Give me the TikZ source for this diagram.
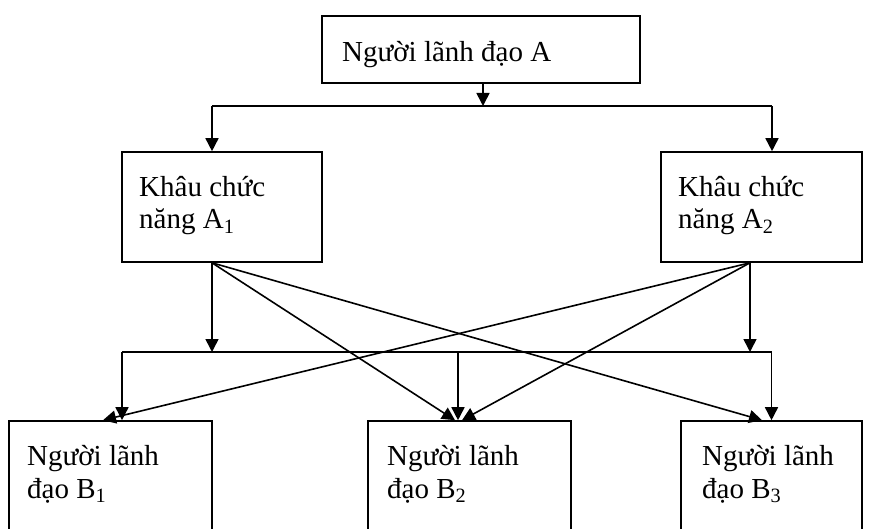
\documentclass[tikz,border=0pt]{standalone}
\usepackage{fontspec}
\setmainfont{Liberation Serif}
\usetikzlibrary{arrows.meta}
\begin{document}
\begin{tikzpicture}[x=1pt,y=-1pt,
  box/.style={draw,line width=1.6pt,rectangle,inner sep=0pt},
  txt/.style={inner sep=0pt,anchor=base west,font=\fontsize{29}{33}\selectfont},
  conn/.style={line width=1.6pt},
  arr/.style={line width=1.6pt,-{Triangle[length=13pt,width=13pt]}}]
\useasboundingbox (0,0) rectangle (872,529);
\clip (0,0) rectangle (872,529);
% boxes
\node[box,minimum width=318pt,minimum height=67pt] (A) at (481,49.5) {};
\node[box,minimum width=200pt,minimum height=110pt] (A1) at (222,207) {};
\node[box,minimum width=201pt,minimum height=110pt] (A2) at (761.5,207) {};
\node[box,minimum width=203pt,minimum height=139pt] (B1) at (110.5,490.5) {};
\node[box,minimum width=203pt,minimum height=139pt] (B2) at (469.5,490.5) {};
\node[box,minimum width=181pt,minimum height=139pt] (B3) at (771.5,490.5) {};
% texts
\node[txt] (tA) at (342,62) {Người lãnh đạo A};
\node[txt] (tA1a) at (139,197) {Khâu chức};
\node[txt] (tA1b) at (139,229) {năng A\textsubscript{1}};
\node[txt] (tA2a) at (678,197) {Khâu chức};
\node[txt] (tA2b) at (678,229) {năng A\textsubscript{2}};
\node[txt] (tB1a) at (27,465) {Người lãnh};
\node[txt] (tB1b) at (27,498) {đạo B\textsubscript{1}};
\node[txt] (tB2a) at (387,465) {Người lãnh};
\node[txt] (tB2b) at (387,498) {đạo B\textsubscript{2}};
\node[txt] (tB3a) at (702,465) {Người lãnh};
\node[txt] (tB3b) at (702,498) {đạo B\textsubscript{3}};
% attachment points
\coordinate (bar1) at (0,106);
\coordinate (bar2) at (0,352);
\coordinate (a1t) at ([xshift=-10pt]A1.north);
\coordinate (a2t) at ([xshift=10.5pt]A2.north);
\coordinate (a1b) at ([xshift=-10pt]A1.south);
\coordinate (a2b) at ([xshift=-11.5pt]A2.south);
\coordinate (b1v) at ([xshift=11.5pt]B1.north);
\coordinate (b2v) at ([xshift=-11.5pt]B2.north);
\coordinate (b3v) at ([xshift=0pt]B3.north);
\coordinate (b1d) at ([xshift=-7.5pt]B1.north);
\coordinate (b2d1) at ([xshift=-14.5pt]B2.north);
\coordinate (b2d2) at ([xshift=-7.5pt]B2.north);
\coordinate (b3d) at ([xshift=-9.5pt]B3.north);
% top level
\draw[arr] ([xshift=2pt]A.south) -- ([xshift=2pt]A.south |- bar1);
\draw[conn] (a1t |- bar1) -- (a2t |- bar1);
\draw[arr] (a1t |- bar1) -- (a1t);
\draw[arr] (a2t |- bar1) -- (a2t);
% second level
\draw[arr] (a1b) -- (a1b |- bar2);
\draw[arr] (a2b) -- (a2b |- bar2);
\draw[conn] (b1v |- bar2) -- (b3v |- bar2);
\draw[arr] (b1v |- bar2) -- (b1v);
\draw[arr] (b2v |- bar2) -- (b2v);
\draw[arr] (b3v |- bar2) -- (b3v);
% diagonals
\draw[arr] (a1b) -- (b2d1);
\draw[arr] (a1b) -- (b3d);
\draw[arr] (a2b) -- (b1d);
\draw[arr] (a2b) -- (b2d2);
\end{tikzpicture}
\end{document}
